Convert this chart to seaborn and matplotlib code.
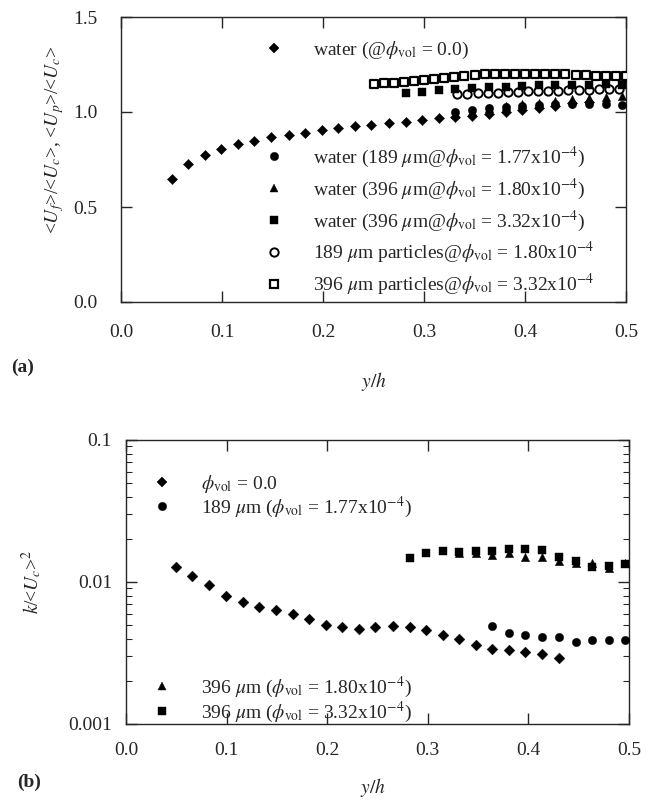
import numpy as np
import pandas as pd
import seaborn as sns
import matplotlib
matplotlib.use("Agg")
import matplotlib.pyplot as plt
from matplotlib.lines import Line2D
from matplotlib.legend import Legend

# ---------------- data: panel (a) ----------------
a_x_w0 = [0.050, 0.066, 0.083, 0.099, 0.116, 0.132, 0.149, 0.166, 0.182, 0.199,
          0.215, 0.232, 0.248, 0.265, 0.282, 0.298, 0.315, 0.331, 0.348, 0.364,
          0.381, 0.397, 0.414, 0.430, 0.447, 0.463]
a_y_w0 = [0.650, 0.726, 0.774, 0.805, 0.832, 0.849, 0.867, 0.881, 0.891, 0.905,
          0.916, 0.925, 0.933, 0.942, 0.949, 0.960, 0.967, 0.976, 0.980, 0.990,
          1.000, 1.010, 1.020, 1.030, 1.045, 1.055]

a_x_w189 = [0.331, 0.348, 0.364, 0.381, 0.397, 0.414, 0.430, 0.447, 0.463, 0.480, 0.496]
a_y_w189 = [1.000, 1.010, 1.020, 1.025, 1.030, 1.035, 1.040, 1.040, 1.040, 1.040, 1.035]

a_x_w396a = [0.331, 0.348, 0.364, 0.381, 0.397, 0.414, 0.430, 0.447, 0.463, 0.480, 0.496]
a_y_w396a = [0.990, 1.005, 1.020, 1.030, 1.040, 1.050, 1.060, 1.070, 1.075, 1.080, 1.085]

a_x_w396b = [0.282, 0.298, 0.315, 0.331, 0.348, 0.364, 0.381, 0.397, 0.414, 0.430,
             0.447, 0.463, 0.480, 0.496]
a_y_w396b = [1.098, 1.107, 1.116, 1.120, 1.125, 1.130, 1.130, 1.135, 1.140, 1.140,
             1.140, 1.140, 1.145, 1.140]

a_x_p189 = [0.333, 0.343, 0.353, 0.363, 0.373, 0.383, 0.393, 0.403, 0.413, 0.423,
            0.433, 0.443, 0.453, 0.463, 0.473, 0.483, 0.493]
a_y_p189 = [1.095, 1.097, 1.100, 1.100, 1.102, 1.105, 1.105, 1.108, 1.110, 1.110,
            1.112, 1.115, 1.115, 1.118, 1.120, 1.120, 1.120]

a_x_p396 = [0.25, 0.26, 0.27, 0.28, 0.29, 0.30, 0.31, 0.32, 0.33, 0.34, 0.35, 0.36, 0.37,
            0.38, 0.39, 0.40, 0.41, 0.42, 0.43, 0.44, 0.45, 0.46, 0.47, 0.48, 0.49, 0.50]
a_y_p396 = [1.150, 1.152, 1.155, 1.160, 1.165, 1.170, 1.175, 1.180, 1.185, 1.190, 1.195,
            1.198, 1.200, 1.200, 1.200, 1.202, 1.202, 1.200, 1.200, 1.198, 1.195, 1.195,
            1.192, 1.190, 1.190, 1.190]

a_labels = [r"water (@$\phi_{\rm vol}$ = 0.0)",
            r"water (189 $\mu$m@$\phi_{\rm vol}$ = 1.77x10$^{-4}$)",
            r"water (396 $\mu$m@$\phi_{\rm vol}$ = 1.80x10$^{-4}$)",
            r"water (396 $\mu$m@$\phi_{\rm vol}$ = 3.32x10$^{-4}$)",
            r"189 $\mu$m particles@$\phi_{\rm vol}$ = 1.80x10$^{-4}$",
            r"396 $\mu$m particles@$\phi_{\rm vol}$ = 3.32x10$^{-4}$"]

# ---------------- data: panel (b) ----------------
b_x_w0 = [0.050, 0.066, 0.083, 0.099, 0.116, 0.132, 0.149, 0.166, 0.182, 0.199,
          0.215, 0.232, 0.248, 0.265, 0.282, 0.298, 0.315, 0.331, 0.348, 0.364,
          0.381, 0.397, 0.414, 0.430]
b_k_w0 = [0.0127, 0.0111, 0.0095, 0.0080, 0.0072, 0.0067, 0.0063, 0.0060, 0.0055, 0.0050,
          0.0048, 0.0047, 0.0048, 0.0049, 0.0048, 0.0046, 0.0042, 0.0040, 0.0036, 0.0034,
          0.0033, 0.0032, 0.0031, 0.0029]

b_x_189 = [0.364, 0.381, 0.397, 0.414, 0.430, 0.447, 0.463, 0.480, 0.496]
b_k_189 = [0.0049, 0.0044, 0.0042, 0.0041, 0.0041, 0.0038, 0.0039, 0.0039, 0.0039]

b_x_396a = [0.331, 0.348, 0.364, 0.381, 0.397, 0.414, 0.430, 0.447, 0.463, 0.480, 0.496]
b_k_396a = [0.0160, 0.0160, 0.0155, 0.0160, 0.0150, 0.0150, 0.0140, 0.0135, 0.0135,
            0.0125, 0.0135]

b_x_396b = [0.282, 0.298, 0.315, 0.331, 0.348, 0.364, 0.381, 0.397, 0.414, 0.430,
            0.447, 0.463, 0.480, 0.496]
b_k_396b = [0.0147, 0.0159, 0.0165, 0.0162, 0.0164, 0.0164, 0.0170, 0.0170, 0.0167,
            0.0150, 0.0140, 0.0128, 0.0130, 0.0133]

b_labels = [r"$\phi_{\rm vol}$ = 0.0",
            r"189 $\mu$m ($\phi_{\rm vol}$ = 1.77x10$^{-4}$)",
            r"396 $\mu$m ($\phi_{\rm vol}$ = 1.80x10$^{-4}$)",
            r"396 $\mu$m ($\phi_{\rm vol}$ = 3.32x10$^{-4}$)"]

x_ticks = [0.0, 0.1, 0.2, 0.3, 0.4, 0.5]
a_y_ticks = [0.0, 0.5, 1.0, 1.5]
b_y_ticks = [0.001, 0.01, 0.1]
b_y_ticklabels = ["0.001", "0.01", "0.1"]

# ---------------- style ----------------
sns.set_style("ticks")
plt.rcParams["font.family"] = ["Liberation Serif", "DejaVu Serif"]
plt.rcParams["mathtext.fontset"] = "stix"
plt.rcParams["axes.linewidth"] = 1.0
FS = 14

W, H = 650, 801
fig = plt.figure(figsize=(W / 100, H / 100), dpi=100)
ax1 = fig.add_axes([121 / W, 1 - 302 / H, 505 / W, 285 / H])
ax2 = fig.add_axes([126 / W, 1 - 724 / H, 503 / W, 284 / H])

K = "black"
spec = {
    "w0": dict(marker="D", s=27, color=K, edgecolor=K, linewidth=0.3),
    "w189": dict(marker="o", s=36, color=K, edgecolor=K, linewidth=0.3),
    "w396a": dict(marker="^", s=36, color=K, edgecolor=K, linewidth=0.3),
    "w396b": dict(marker="s", s=26, color=K, edgecolor=K, linewidth=0.3),
    "p189": dict(marker="o", s=36, color="white", edgecolor=K, linewidth=1.4),
    "p396": dict(marker="s", s=38, color="white", edgecolor=K, linewidth=1.6),
}

# ---- panel (a) ----
series_a = [("p396", a_x_p396, a_y_p396), ("p189", a_x_p189, a_y_p189),
            ("w396b", a_x_w396b, a_y_w396b), ("w0", a_x_w0, a_y_w0),
            ("w396a", a_x_w396a, a_y_w396a), ("w189", a_x_w189, a_y_w189)]
for key, xs, ys in series_a:
    sns.scatterplot(x=xs, y=ys, ax=ax1, legend=False, zorder=3, **spec[key])

ax1.set_xlim(0, 0.5)
ax1.set_ylim(0, 1.5)
ax1.set_xticks(x_ticks)
ax1.set_xticklabels([f"{v:.1f}" for v in x_ticks])
ax1.set_yticks(a_y_ticks)
ax1.set_yticklabels([f"{v:.1f}" for v in a_y_ticks])
ax1.tick_params(direction="in", top=True, right=True, length=8, width=1,
                labelsize=FS)
ax1.tick_params(axis="x", pad=16)
ax1.tick_params(axis="y", pad=17)
ax1.set_xlabel(r"$y/h$", fontsize=FS)
ax1.xaxis.set_label_coords(0.5, -0.239)
ax1.set_ylabel(r"<$U_f$>/<$U_c$>, <$U_p$>/<$U_c$>", fontsize=FS)
ax1.yaxis.set_label_coords(-0.109, 0.57)

# ---- panel (b) ----
series_b = [("w396b", b_x_396b, b_k_396b), ("w396a", b_x_396a, b_k_396a),
            ("w0", b_x_w0, b_k_w0), ("w189", b_x_189, b_k_189)]
spec_b = {k: dict(v) for k, v in spec.items()}
spec_b["w0"]["s"] = 30
spec_b["w396b"]["s"] = 32
for key, xs, ys in series_b:
    sns.scatterplot(x=xs, y=ys, ax=ax2, legend=False, zorder=3, **spec_b[key])

ax2.set_yscale("log")
ax2.set_xlim(0, 0.5)
ax2.set_ylim(0.001, 0.1)
ax2.set_xticks(x_ticks)
ax2.set_xticklabels([f"{v:.1f}" for v in x_ticks])
ax2.set_yticks(b_y_ticks)
ax2.set_yticklabels(b_y_ticklabels)
ax2.tick_params(direction="in", top=True, right=True, length=8, width=1,
                labelsize=FS)
ax2.tick_params(axis="y", which="minor", direction="in", left=True, right=True,
                length=4, width=0.8)
ax2.tick_params(axis="x", which="minor", bottom=False, top=False)
ax2.tick_params(axis="x", pad=13)
ax2.tick_params(axis="y", pad=10)
ax2.set_xlabel(r"$y/h$", fontsize=FS)
ax2.xaxis.set_label_coords(0.49, -0.183)
ax2.set_ylabel(r"$k$/<$U_c$>$^2$", fontsize=FS)
ax2.yaxis.set_label_coords(-0.163, 0.5)

# ---- legends (one entry each, positioned like the original) ----
def handle(key, sp):
    d = sp[key]
    return Line2D([], [], ls="none", marker=d["marker"],
                  markersize=np.sqrt(d["s"]), markerfacecolor=d["color"],
                  markeredgecolor=K, markeredgewidth=d["linewidth"])

HL = 2.0
fs_px = FS * 100 / 72

def entry(ax, key, sp, label, mx, my):
    leg = Legend(ax, [handle(key, sp)], [label], loc="center left",
                 bbox_to_anchor=((mx - HL * fs_px / 2) / W, 1 - my / H),
                 bbox_transform=fig.transFigure, frameon=False, fontsize=FS,
                 handlelength=HL, handletextpad=1.0, borderpad=0,
                 borderaxespad=0)
    ax.add_artist(leg)

a_keys = ["w0", "w189", "w396a", "w396b", "p189", "p396"]
a_pos = [(274, 50), (274, 157), (274, 189), (274, 221), (274, 253), (274, 285)]
for key, lab, (mx, my) in zip(a_keys, a_labels, a_pos):
    entry(ax1, key, spec, lab, mx, my)

b_keys = ["w0", "w189", "w396a", "w396b"]
b_pos = [(162, 484), (162, 507), (162, 687), (162, 712)]
for key, lab, (mx, my) in zip(b_keys, b_labels, b_pos):
    entry(ax2, key, spec_b, lab, mx, my)

fig.text(23 / W, 1 - 367 / H, "(a)", fontsize=FS, fontweight="bold",
         ha="center", va="center")
fig.text(29 / W, 1 - 782 / H, "(b)", fontsize=FS, fontweight="bold",
         ha="center", va="center")

fig.savefig("out.png", dpi=100, facecolor="white")
